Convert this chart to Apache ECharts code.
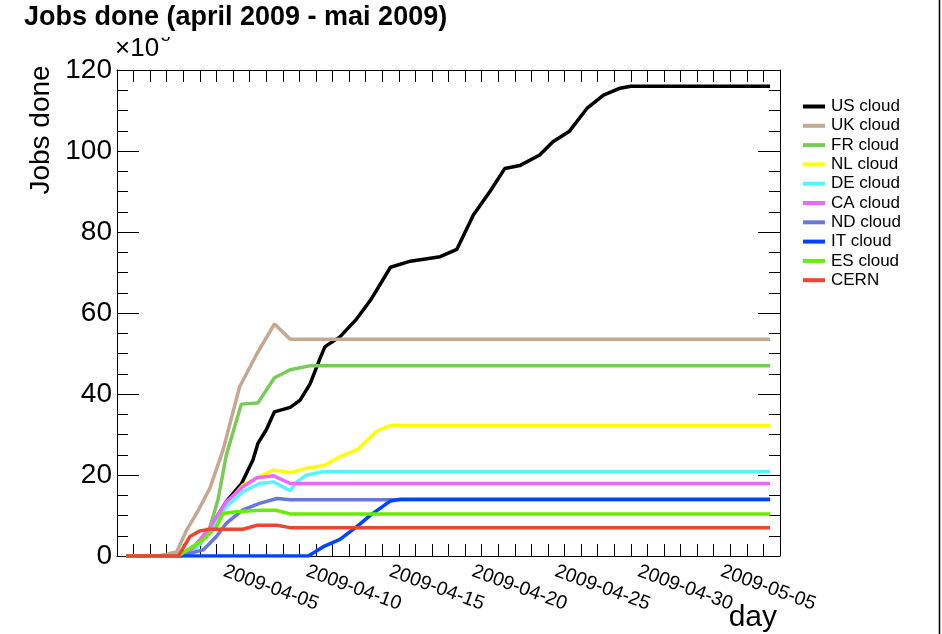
<!DOCTYPE html>
<html>
<head>
<meta charset="utf-8">
<title>Jobs done (april 2009 - mai 2009)</title>
<script src="https://cdn.jsdelivr.net/npm/echarts@6/dist/echarts.min.js"></script>
<style>
  html, body { margin: 0; padding: 0; background: #fff; }
  #chart { width: 942px; height: 634px; }
</style>
</head>
<body>
<div id="chart"></div>
<script>
// x = days since 2009-03-31 00:00, y = cumulative jobs done (x10^3)
var cloudNames = ['US cloud', 'UK cloud', 'FR cloud', 'NL cloud', 'DE cloud', 'CA cloud', 'ND cloud', 'IT cloud', 'ES cloud', 'CERN'];
var cloudColors = ['#000000', '#c4a88f', '#77cc55', '#ffff00', '#55f5ff', '#ee66ff', '#6677dd', '#0044ff', '#66ee00', '#ee4433'];

var usCloud = [[-0.44, 0], [2.6, 0], [3.6, 1.9], [4.6, 6.8], [5.6, 13.5], [6.5, 17.8], [7.2, 23.7], [7.5, 27.8],
  [8.0, 31.1], [8.5, 35.6], [9.45, 36.7], [10.05, 38.5], [10.65, 42.5], [11.25, 48.8], [11.55, 51.7], [12.45, 54.1],
  [13.45, 58.5], [14.3, 63.2], [15.5, 71.3], [16.7, 72.8], [18.5, 73.9], [19.5, 75.7], [20.5, 84.2], [21.5, 90],
  [22.4, 95.7], [23.3, 96.4], [24.5, 99], [25.3, 102.3], [26.3, 104.9], [27.35, 110.5], [28.35, 113.8], [29.35, 115.5],
  [30, 116], [38.4, 116]];
var ukCloud = [[-0.44, 0], [1.5, 0], [2.6, 1], [3.2, 6.4], [3.8, 10.5], [4.6, 16.7], [5.4, 26.2], [6.4, 41.8],
  [7.45, 50], [8.5, 57.3], [9.45, 53.5], [38.4, 53.5]];
var frCloud = [[-0.44, 0], [2.8, 0], [4.0, 3], [4.6, 7], [5.1, 14], [5.6, 25], [6.5, 37.5], [7.5, 37.8], [8.5, 44],
  [9.45, 46], [10.7, 47], [38.4, 47]];
var nlCloud = [[-0.44, 0], [2.8, 0], [3.6, 1.8], [4.6, 6.5], [5.6, 13], [6.6, 17.5], [7.6, 19.6], [8.45, 21.2],
  [9.45, 20.6], [10.45, 21.7], [11.45, 22.3], [12.45, 24.5], [13.55, 26.4], [14.7, 30.9], [15.5, 32.2], [38.4, 32.2]];
var deCloud = [[-0.44, 0], [2.8, 0], [3.7, 1.5], [4.6, 6], [5.6, 12.2], [6.6, 15.9], [7.6, 17.9], [8.45, 18.3],
  [9.45, 16.1], [9.85, 18.3], [10.45, 20], [11.45, 20.8], [38.4, 20.8]];
var caCloud = [[-0.44, 0], [2.8, 0], [3.6, 2], [4.6, 7], [5.6, 13.4], [6.6, 17.1], [7.45, 19.3], [8.45, 19.8],
  [9.45, 17.9], [38.4, 17.9]];
var ndCloud = [[-0.44, 0], [2.8, 0], [4.2, 1.5], [5.0, 4.8], [5.6, 8.1], [6.6, 11.4], [7.6, 13], [8.65, 14.2],
  [9.45, 13.9], [38.4, 13.9]];
var itCloud = [[-0.44, 0], [10.55, 0], [11.45, 2.3], [12.45, 4.1], [13.45, 7.2], [14.3, 10.1], [15.5, 13.6],
  [16.1, 14], [38.4, 14]];
var esCloud = [[-0.44, 0], [2.7, 0], [4.2, 4], [5.0, 7.2], [5.4, 10.5], [6.2, 10.9], [7.6, 11.3], [8.6, 11.3],
  [9.45, 10.4], [38.4, 10.4]];
var cern = [[-0.44, 0], [2.7, 0], [3.4, 4.8], [4.0, 6.2], [4.6, 6.6], [6.6, 6.6], [7.45, 7.6], [8.65, 7.6],
  [9.45, 7.0], [38.4, 7.0]];

var cloudData = [usCloud, ukCloud, frCloud, nlCloud, deCloud, caCloud, ndCloud, itCloud, esCloud, cern];

var xTickDays = [5, 10, 15, 20, 25, 30, 35];
var xTickLabels = ['2009-04-05', '2009-04-10', '2009-04-15', '2009-04-20', '2009-04-25', '2009-04-30', '2009-05-05'];

var font = '"Liberation Sans", Arial, Helvetica, sans-serif';

var chart = echarts.init(document.getElementById('chart'), null, { renderer: 'canvas' });

function xLabel(v) {
  var i = xTickDays.indexOf(Math.round(v));
  return (i >= 0 && Math.abs(v - xTickDays[i]) < 1e-6) ? xTickLabels[i] : '';
}

var axisLine = { show: true, onZero: false, lineStyle: { color: '#000', width: 1 } };

var series = cloudNames.map(function (name, i) {
  return {
    name: name,
    type: 'line',
    data: cloudData[i],
    showSymbol: false,
    symbol: 'none',
    lineStyle: { color: cloudColors[i], width: 3.5 },
    itemStyle: { color: cloudColors[i] },
    animation: false
  };
});

var option = {
  backgroundColor: '#fff',
  animation: false,
  grid: { left: 117, top: 70, width: 663, height: 486, outerBoundsMode: 'none', containLabel: false },
  legend: {
    orient: 'vertical',
    left: 803,
    top: 98,
    padding: 0,
    icon: 'rect',
    itemWidth: 22,
    itemHeight: 4,
    itemGap: 2.3,
    textStyle: { fontFamily: font, fontSize: 17, lineHeight: 16, color: '#000', padding: [0, 0, 0, 1] },
    data: cloudNames
  },
  xAxis: [
    {
      type: 'value', position: 'bottom', min: -1, max: 39, interval: 1,
      axisLine: axisLine,
      axisTick: { show: true, inside: true, length: 12, lineStyle: { color: '#000' } },
      axisLabel: { show: true, rotate: -20, margin: 12, fontFamily: font, fontSize: 19.5, color: '#000', formatter: xLabel,
        padding: [0, 0, 0, 8], showMinLabel: true, showMaxLabel: true, hideOverlap: false },
      splitLine: { show: false }
    },
    {
      type: 'value', position: 'top', min: -1, max: 39, interval: 1,
      axisLine: axisLine,
      axisTick: { show: true, inside: true, length: 12, lineStyle: { color: '#000' } },
      axisLabel: { show: false },
      splitLine: { show: false }
    }
  ],
  yAxis: [
    {
      type: 'value', position: 'left', min: 0, max: 120, interval: 20,
      axisLine: axisLine,
      axisTick: { show: true, inside: true, length: 22, lineStyle: { color: '#000' } },
      minorTick: { show: true, splitNumber: 4, length: 11, lineStyle: { color: '#000' } },
      axisLabel: { show: true, margin: 5, fontFamily: font, fontSize: 28, color: '#000' },
      splitLine: { show: false },
      minorSplitLine: { show: false }
    },
    {
      type: 'value', position: 'right', min: 0, max: 120, interval: 20,
      axisLine: axisLine,
      axisTick: { show: true, inside: true, length: 22, lineStyle: { color: '#000' } },
      minorTick: { show: true, splitNumber: 4, length: 11, lineStyle: { color: '#000' } },
      axisLabel: { show: false },
      splitLine: { show: false },
      minorSplitLine: { show: false }
    }
  ],
  graphic: [
    { type: 'text', left: 161, top: 28, z: 10, style: { text: '3', fontFamily: font, fontSize: 17, fill: '#000' } },
    { type: 'rect', left: 150, top: 0, z: 11, shape: { width: 30, height: 37 }, style: { fill: '#fff' } },
    { type: 'text', left: 24, top: 4, z: 12, style: { text: 'Jobs done (april 2009 - mai 2009)', fontFamily: font, fontSize: 27, fontWeight: 'bold', fill: '#000' } },
    { type: 'text', left: 115, top: 36, z: 12, style: { text: '\u00d710', fontFamily: font, fontSize: 26, fill: '#000' } },
    { type: 'text', x: 41, y: 130, rotation: Math.PI / 2, z: 12,
      style: { text: 'Jobs done', fontFamily: font, fontSize: 28, fill: '#000', align: 'center', verticalAlign: 'middle' } },
    { type: 'text', x: 777, y: 603, z: 12, style: { text: 'day', fontFamily: font, fontSize: 30, fill: '#000', align: 'right', verticalAlign: 'top' } },
    { type: 'line', z: 12, shape: { x1: 939.5, y1: 0, x2: 939.5, y2: 634 }, style: { stroke: '#000', lineWidth: 1.5 } }
  ],
  series: series
};

chart.setOption(option);
</script>
</body>
</html>
